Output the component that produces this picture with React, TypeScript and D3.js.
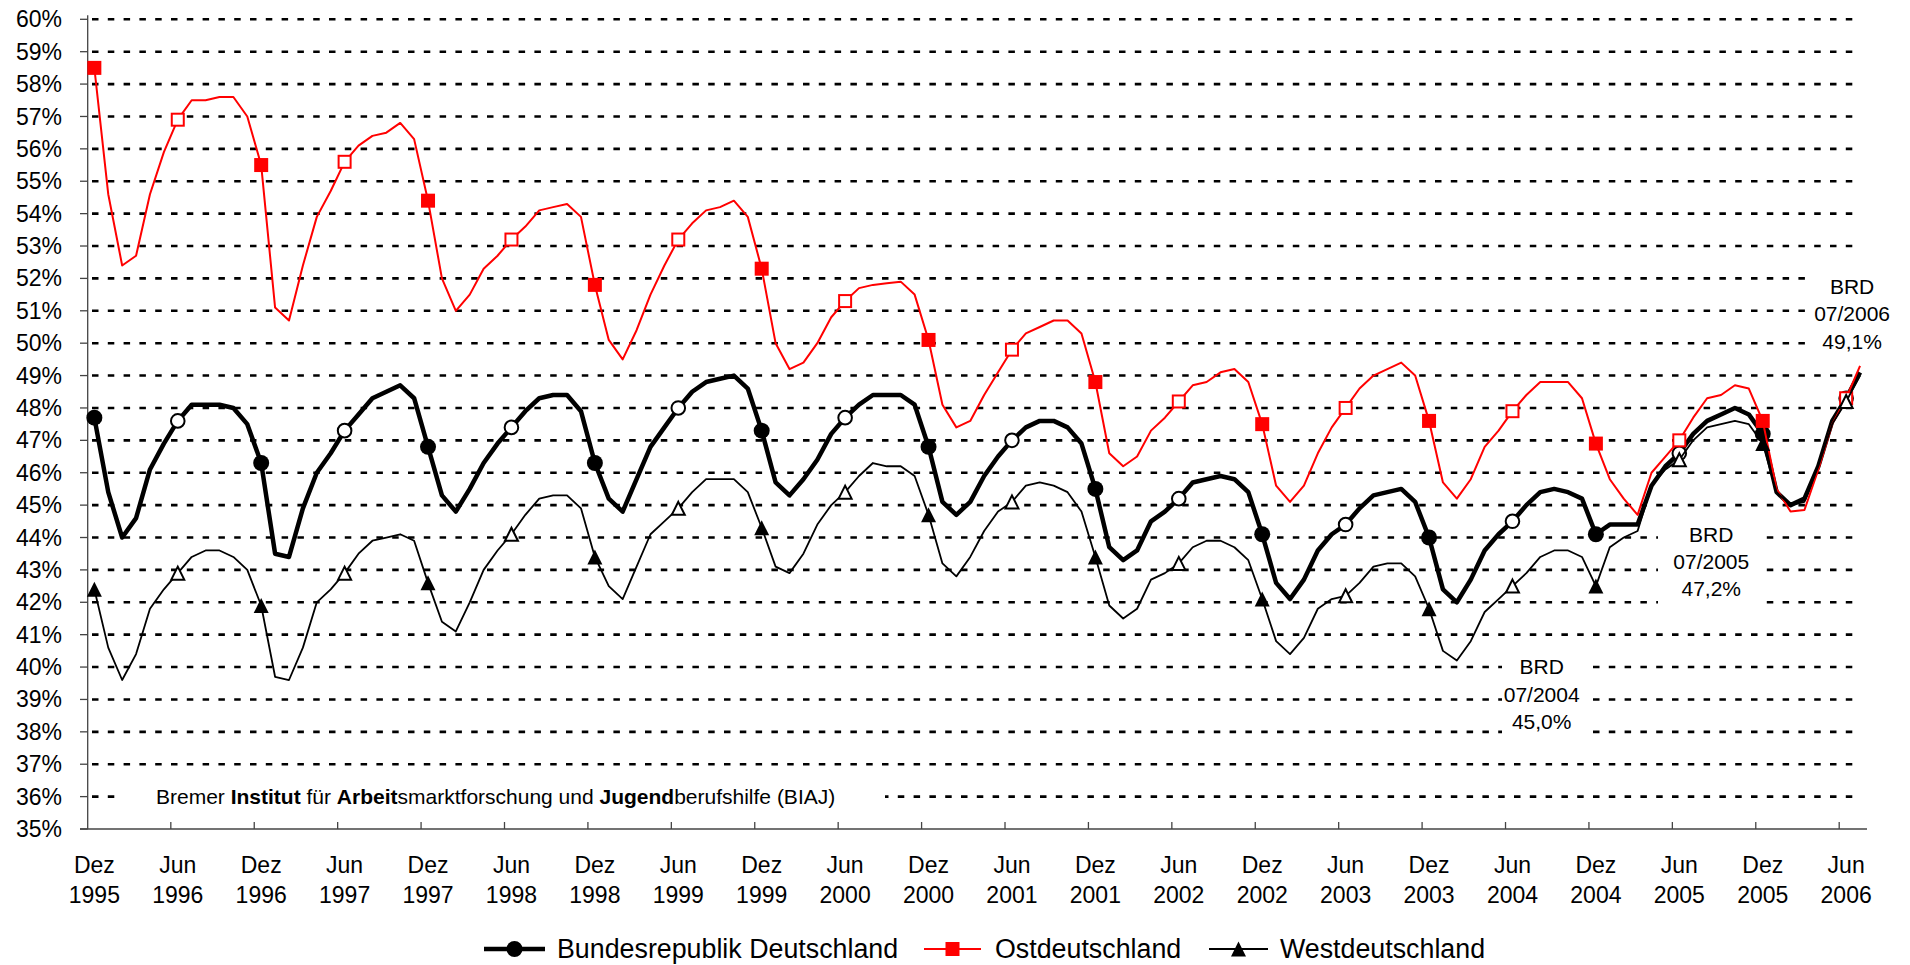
import React, { useRef, useEffect } from 'react';
import * as d3 from 'd3';

// Jugendarbeitslosigkeit-Anteil, monthly Dez 1995 .. Jul 2006
const brd = [
  47.7, 45.4, 44.0, 44.6, 46.1, 46.9, 47.6, 48.1, 48.1, 48.1, 48.0, 47.5,
  46.3, 43.5, 43.4, 44.9, 46.0, 46.6, 47.3, 47.8, 48.3, 48.5, 48.7, 48.3,
  46.8, 45.3, 44.8, 45.5, 46.3, 46.9, 47.4, 47.9, 48.3, 48.4, 48.4, 47.9,
  46.3, 45.2, 44.8, 45.8, 46.8, 47.4, 48.0, 48.5, 48.8, 48.9, 49.0, 48.6,
  47.3, 45.7, 45.3, 45.8, 46.4, 47.2, 47.7, 48.1, 48.4, 48.4, 48.4, 48.1,
  46.8, 45.1, 44.7, 45.1, 45.9, 46.5, 47.0, 47.4, 47.6, 47.6, 47.4, 46.9,
  45.5, 43.7, 43.3, 43.6, 44.5, 44.8, 45.2, 45.7, 45.8, 45.9, 45.8, 45.4,
  44.1, 42.6, 42.1, 42.7, 43.6, 44.1, 44.4, 44.9, 45.3, 45.4, 45.5, 45.1,
  44.0, 42.4, 42.0, 42.7, 43.6, 44.1, 44.5, 45.0, 45.4, 45.5, 45.4, 45.2,
  44.1, 44.4, 44.4, 44.4, 45.6, 46.2, 46.6, 47.2, 47.6, 47.8, 48.0, 47.8,
  47.2, 45.4, 45.0, 45.2, 46.2, 47.6, 48.3, 49.1,
];

const ost = [
  58.5, 54.6, 52.4, 52.7, 54.6, 55.9, 56.9, 57.5, 57.5, 57.6, 57.6, 57.0,
  55.5, 51.1, 50.7, 52.4, 53.9, 54.7, 55.6, 56.1, 56.4, 56.5, 56.8, 56.3,
  54.4, 52.0, 51.0, 51.5, 52.3, 52.7, 53.2, 53.6, 54.1, 54.2, 54.3, 53.9,
  51.8, 50.1, 49.5, 50.4, 51.5, 52.4, 53.2, 53.7, 54.1, 54.2, 54.4, 53.9,
  52.3, 50.0, 49.2, 49.4, 50.0, 50.8, 51.3, 51.7, 51.8, 51.85, 51.9, 51.5,
  50.1, 48.1, 47.4, 47.6, 48.4, 49.1, 49.8, 50.3, 50.5, 50.7, 50.7, 50.3,
  48.8, 46.6, 46.2, 46.5, 47.3, 47.7, 48.2, 48.7, 48.8, 49.1, 49.2, 48.8,
  47.5, 45.6, 45.1, 45.6, 46.6, 47.4, 48.0, 48.6, 49.0, 49.2, 49.4, 49.0,
  47.6, 45.7, 45.2, 45.8, 46.8, 47.3, 47.9, 48.4, 48.8, 48.8, 48.8, 48.3,
  46.9, 45.8, 45.2, 44.7, 46.0, 46.5, 47.0, 47.7, 48.3, 48.4, 48.7, 48.6,
  47.6, 45.5, 44.8, 44.85, 46.1, 47.5, 48.3, 49.3,
];

const west = [
  42.4, 40.6, 39.6, 40.4, 41.8, 42.4, 42.9, 43.4, 43.6, 43.6, 43.4, 43.0,
  41.9, 39.7, 39.6, 40.6, 42.0, 42.4, 42.9, 43.5, 43.9, 44.0, 44.1, 43.9,
  42.6, 41.4, 41.1, 42.0, 43.0, 43.6, 44.1, 44.7, 45.2, 45.3, 45.3, 44.9,
  43.4, 42.5, 42.1, 43.1, 44.1, 44.5, 44.9, 45.4, 45.8, 45.8, 45.8, 45.4,
  44.3, 43.1, 42.9, 43.5, 44.4, 45.0, 45.4, 45.9, 46.3, 46.2, 46.2, 45.9,
  44.7, 43.2, 42.8, 43.4, 44.2, 44.8, 45.1, 45.6, 45.7, 45.6, 45.4, 44.8,
  43.4, 41.9, 41.5, 41.8, 42.7, 42.9, 43.2, 43.7, 43.9, 43.9, 43.7, 43.3,
  42.1, 40.8, 40.4, 40.9, 41.8, 42.1, 42.2, 42.6, 43.1, 43.2, 43.2, 42.8,
  41.8, 40.5, 40.2, 40.8, 41.7, 42.1, 42.5, 42.9, 43.4, 43.6, 43.6, 43.4,
  42.5, 43.7, 44.0, 44.2, 45.6, 46.1, 46.4, 47.0, 47.4, 47.5, 47.6, 47.5,
  46.9, 45.4, 45.0, 45.1, 46.2, 47.5, 48.2, 49.0,
];

// one label every 6 months (Dez / Jun)
const tickLabels = [
  'Dez 1995', 'Jun 1996', 'Dez 1996', 'Jun 1997', 'Dez 1997', 'Jun 1998',
  'Dez 1998', 'Jun 1999', 'Dez 1999', 'Jun 2000', 'Dez 2000', 'Jun 2001',
  'Dez 2001', 'Jun 2002', 'Dez 2002', 'Jun 2003', 'Dez 2003', 'Jun 2004',
  'Dez 2004', 'Jun 2005', 'Dez 2005', 'Jun 2006',
];

const yTicks = [35, 36, 37, 38, 39, 40, 41, 42, 43, 44, 45, 46, 47, 48, 49, 50,
  51, 52, 53, 54, 55, 56, 57, 58, 59, 60];

// BRD call-outs
const notes = [
  ['BRD', '07/2006', '49,1%'],
  ['BRD', '07/2005', '47,2%'],
  ['BRD', '07/2004', '45,0%'],
];

const series = [
  { name: 'Bundesrepublik Deutschland', values: brd, color: '#000000', width: 4.5, marker: 'circle' },
  { name: 'Ostdeutschland', values: ost, color: '#ff0000', width: 2, marker: 'square' },
  { name: 'Westdeutschland', values: west, color: '#000000', width: 1.8, marker: 'triangle' },
];

const FONT = '"Liberation Sans", Arial, Helvetica, sans-serif';

// draw one marker; filled for Dez, open for Jun
const drawMarker = (g, type, cx, cy, color, filled) => {
  if (type === 'circle') {
    g.append('circle')
      .attr('cx', cx).attr('cy', cy)
      .attr('r', filled ? 8 : 6.8)
      .attr('fill', filled ? color : '#fff')
      .attr('stroke', color)
      .attr('stroke-width', filled ? 0 : 2);
  } else if (type === 'square') {
    const s = filled ? 14 : 12;
    g.append('rect')
      .attr('x', cx - s / 2).attr('y', cy - s / 2)
      .attr('width', s).attr('height', s)
      .attr('fill', filled ? color : '#fff')
      .attr('stroke', color)
      .attr('stroke-width', filled ? 0 : 2);
  } else {
    const h = filled ? 15 : 13;
    const w = filled ? 15 : 13;
    g.append('path')
      .attr('d', `M${cx},${cy - h / 2}L${cx + w / 2},${cy + h / 2}L${cx - w / 2},${cy + h / 2}Z`)
      .attr('fill', filled ? color : '#fff')
      .attr('stroke', color)
      .attr('stroke-width', filled ? 0 : 2)
      .attr('stroke-linejoin', 'miter');
  }
};

const Chart = () => {
  const ref = useRef(null);

  useEffect(() => {
    const svg = d3.select(ref.current);
    svg.selectAll('*').remove();

    const n = brd.length;
    const x = d3.scaleBand().domain(d3.range(n)).range([87.4, 1867]);
    const xl = d3.scaleLinear().domain([0, n]).range([87.4, 1867]);
    const xc = (i) => xl(i + 0.5);
    const y = d3.scaleLinear().domain([35, 60]).range([829, 19.3]);

    const gridEnd = 1860;

    // dashed gridlines
    svg.append('g')
      .selectAll('line')
      .data(yTicks.filter(t => t > 35))
      .enter()
      .append('line')
      .attr('x1', 88).attr('x2', gridEnd)
      .attr('y1', d => y(d)).attr('y2', d => y(d))
      .attr('stroke', '#000')
      .attr('stroke-width', 2.6)
      .attr('stroke-dasharray', '6.5,9.3')
      .attr('stroke-dashoffset', -4);

    // white boxes behind text (hide gridlines)
    const boxes = [
      [1812, 262, 100, 94],
      [1658, 514, 102, 106],
      [1502, 645, 90, 103],
      [123, 781, 762, 32],
    ];
    svg.append('g')
      .selectAll('rect')
      .data(boxes)
      .enter()
      .append('rect')
      .attr('x', d => d[0]).attr('y', d => d[1])
      .attr('width', d => d[2]).attr('height', d => d[3])
      .attr('fill', '#fff');

    // axes
    svg.append('line')
      .attr('x1', 87.7).attr('x2', 87.7)
      .attr('y1', y(60) - 4).attr('y2', y(35))
      .attr('stroke', '#444').attr('stroke-width', 1.3);
    svg.append('line')
      .attr('x1', 80).attr('x2', 1867)
      .attr('y1', y(35)).attr('y2', y(35))
      .attr('stroke', '#444').attr('stroke-width', 1.3);

    svg.append('g')
      .selectAll('line')
      .data(yTicks)
      .enter()
      .append('line')
      .attr('x1', 80).attr('x2', 87.7)
      .attr('y1', d => y(d)).attr('y2', d => y(d))
      .attr('stroke', '#444').attr('stroke-width', 1.3);

    svg.append('g')
      .selectAll('text')
      .data(yTicks)
      .enter()
      .append('text')
      .attr('x', 62)
      .attr('y', d => y(d))
      .attr('dy', '0.35em')
      .attr('text-anchor', 'end')
      .attr('font-family', FONT)
      .attr('font-size', 23)
      .attr('fill', '#000')
      .text(d => `${d}%`);

    // x ticks every 6 months, pointing inward
    const xTickIdx = d3.range(6, n - 1, 6);
    svg.append('g')
      .selectAll('line')
      .data(xTickIdx)
      .enter()
      .append('line')
      .attr('x1', d => x(d)).attr('x2', d => x(d))
      .attr('y1', y(35)).attr('y2', y(35) - 7)
      .attr('stroke', '#444').attr('stroke-width', 1.3);

    const xLab = svg.append('g')
      .attr('font-family', FONT)
      .attr('font-size', 23)
      .attr('fill', '#000')
      .attr('text-anchor', 'middle');
    tickLabels.forEach((lab, k) => {
      const [m, yr] = lab.split(' ');
      const t = xLab.append('text').attr('x', xc(k * 6));
      t.append('tspan').attr('x', xc(k * 6)).attr('y', 873).text(m);
      t.append('tspan').attr('x', xc(k * 6)).attr('y', 903).text(yr);
    });

    // series
    series.forEach(s => {
      const line = d3.line()
        .x((d, i) => xc(i))
        .y(d => y(d));
      svg.append('path')
        .datum(s.values)
        .attr('fill', 'none')
        .attr('stroke', s.color)
        .attr('stroke-width', s.width)
        .attr('stroke-linejoin', 'round')
        .attr('d', line);

      const mg = svg.append('g');
      s.values.forEach((v, i) => {
        if (i % 6 !== 0) return;
        drawMarker(mg, s.marker, xc(i), y(v), s.color, i % 12 === 0);
      });
    });

    // call-out texts (centre in month units, line positions in % units)
    const noteCenters = [
      { cx: xc(126.5) - 1, ys: [51.75, 50.9, 50.05] },
      { cx: xc(116.3), ys: [44.08, 43.25, 42.41] },
      { cx: xc(104.1), ys: [40.0, 39.14, 38.31] },
    ];
    notes.forEach((lines, k) => {
      const pos = noteCenters[k];
      lines.forEach((ln, j) => {
        svg.append('text')
          .attr('x', pos.cx)
          .attr('y', y(pos.ys[j]))
          .attr('dy', '0.35em')
          .attr('text-anchor', 'middle')
          .attr('font-family', FONT)
          .attr('font-size', 21)
          .attr('fill', '#000')
          .text(ln);
      });
    });

    // source line
    const src = svg.append('text')
      .attr('x', 156)
      .attr('y', y(36))
      .attr('dy', '0.35em')
      .attr('font-family', FONT)
      .attr('font-size', 21)
      .attr('fill', '#000');
    const parts = [
      ['Bremer ', false], ['Institut', true], [' für ', false], ['Arbeit', true],
      ['smarktforschung und ', false], ['Jugend', true], ['berufshilfe (BIAJ)', false],
    ];
    parts.forEach(([t, b]) => {
      src.append('tspan').attr('font-weight', b ? 'bold' : 'normal').text(t);
    });

    // legend
    const legendY = 949;
    const legendItems = [
      { x0: 484, x1: 545, tx: 557 },
      { x0: 924, x1: 981, tx: 995 },
      { x0: 1209, x1: 1268, tx: 1280 },
    ];
    series.forEach((s, k) => {
      const li = legendItems[k];
      const lg = svg.append('g');
      lg.append('line')
        .attr('x1', li.x0).attr('x2', li.x1)
        .attr('y1', legendY).attr('y2', legendY)
        .attr('stroke', s.color)
        .attr('stroke-width', s.width);
      drawMarker(lg, s.marker, (li.x0 + li.x1) / 2, legendY, s.color, true);
      lg.append('text')
        .attr('x', li.tx)
        .attr('y', legendY)
        .attr('dy', '0.35em')
        .attr('font-family', FONT)
        .attr('font-size', 26.8)
        .attr('fill', '#000')
        .text(s.name);
    });
  }, []);

  return <svg ref={ref} width={1910} height={965} style={{ position: 'absolute', left: 0, top: 0, background: '#fff' }} />;
};

export default function App() {
  return <Chart />;
}
